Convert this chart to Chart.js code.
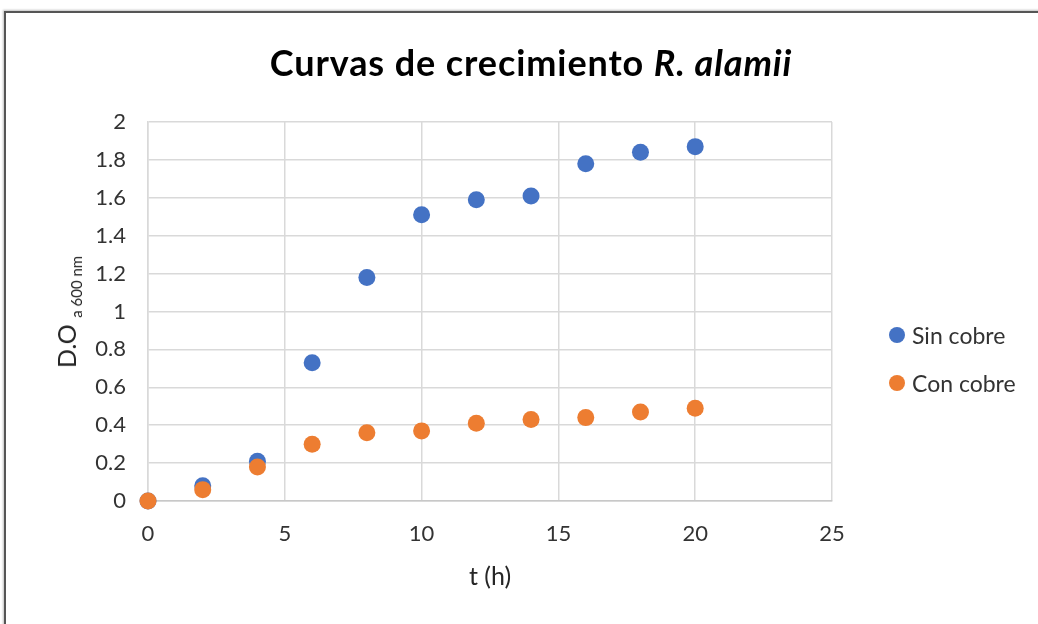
<!DOCTYPE html>
<html>
<head>
<meta charset="utf-8">
<script src="https://cdn.jsdelivr.net/npm/chart.js@4"></script>
<style>
  html, body { margin: 0; padding: 0; background: #fff; }
  #wrap { position: relative; width: 1038px; height: 624px; overflow: hidden; font-family: Lato, "Open Sans", sans-serif; }
  #frame { position: absolute; left: 4px; top: 11px; width: 1100px; height: 700px; border-left: 2px solid #555; border-top: 2px solid #555; box-shadow: -1px -1px 2px rgba(0,0,0,0.25); }
  #title { position: absolute; left: 0; width: 1062px; top: 40px; text-align: center; font-size: 36px; letter-spacing: 0.9px; font-weight: bold; color: #000; }
  #ytitle { position: absolute; left: 68px; top: 312px; transform: translate(-50%, -50%) rotate(-90deg); white-space: nowrap; font-size: 25px; color: #262626; }
  #ytitle sub { font-size: 15px; vertical-align: -6px; }
  #legend { position: absolute; left: 889px; top: 321px; font-size: 23px; color: #333; }
  .item { height: 48px; display: flex; align-items: flex-start; }
  .dot { width: 16px; height: 16px; border-radius: 50%; margin-top: 6px; margin-right: 7px; }
  canvas { position: absolute; left: 0; top: 0; }
</style>
</head>
<body>
<div id="wrap">
  <div id="frame"></div>
  <canvas id="scatterChart" width="1038" height="624"></canvas>
  <div id="title">Curvas de crecimiento <i>R. alamii</i></div>
  <div id="ytitle">D.O <sub>a 600 nm</sub></div>
  <div id="legend"></div>
</div>
<script>
const hours = [0, 2, 4, 6, 8, 10, 12, 14, 16, 18, 20];
const sinCobre = [0, 0.08, 0.21, 0.73, 1.18, 1.51, 1.59, 1.61, 1.78, 1.84, 1.87];
const conCobre = [0, 0.06, 0.18, 0.30, 0.36, 0.37, 0.41, 0.43, 0.44, 0.47, 0.49];
const seriesNames = ["Sin cobre", "Con cobre"];
const seriesColors = ["#4472C4", "#ED7D31"];
const xTicks = [0, 5, 10, 15, 20, 25];
const yTicks = [0, 0.2, 0.4, 0.6, 0.8, 1, 1.2, 1.4, 1.6, 1.8, 2];

function toPoints(values) {
  return hours.map((h, i) => ({ x: h, y: values[i] }));
}

const gridColor = "#d9d9d9";
const tickFont = { family: "Lato", size: 22 };

const ctx = document.getElementById("scatterChart").getContext("2d");
const scatterChart = new Chart(ctx, {
  type: "scatter",
  data: {
    datasets: [
      {
        label: seriesNames[0],
        data: toPoints(sinCobre),
        backgroundColor: seriesColors[0],
        borderWidth: 0,
        pointRadius: 8.5,
        pointHoverRadius: 8.5,
        order: 1,
        clip: false,
      },
      {
        label: seriesNames[1],
        data: toPoints(conCobre),
        backgroundColor: seriesColors[1],
        borderWidth: 0,
        pointRadius: 8.5,
        pointHoverRadius: 8.5,
        order: 0,
        clip: false,
      },
    ],
  },
  options: {
    responsive: false,
    animation: false,
    layout: {
      padding: { top: 122, right: 206, bottom: 0, left: 0 },
    },
    plugins: {
      legend: { display: false },
      tooltip: { enabled: false },
    },
    scales: {
      x: {
        type: "linear",
        min: 0,
        max: 25,
        afterBuildTicks: (scale) => {
          scale.ticks = xTicks.map((v) => ({ value: v }));
        },
        afterFit: (scale) => {
          scale.height = 123;
        },
        ticks: { font: tickFont, color: "#333", padding: 20 },
        grid: { color: gridColor, lineWidth: 1.5, drawTicks: false },
        border: { color: "#c8c8c8", width: 1.5 },
        title: {
          display: true,
          text: "t (h)",
          font: { family: "Lato", size: 25 },
          color: "#262626",
          padding: { top: 4, bottom: 32 },
        },
      },
      y: {
        type: "linear",
        min: 0,
        max: 2,
        afterBuildTicks: (scale) => {
          scale.ticks = yTicks.map((v) => ({ value: v }));
        },
        afterFit: (scale) => {
          scale.width = 148;
        },
        ticks: {
          font: tickFont,
          color: "#333",
          padding: 22,
          callback: (value) => String(+value.toFixed(1)),
        },
        grid: { color: gridColor, lineWidth: 1.5, drawTicks: false },
        border: { color: gridColor, width: 1.5 },
      },
    },
  },
});

// legend built from the datasets
const legendBox = document.getElementById("legend");
scatterChart.data.datasets.forEach((ds) => {
  const item = document.createElement("div");
  item.className = "item";
  const dot = document.createElement("span");
  dot.className = "dot";
  dot.style.background = ds.backgroundColor;
  const text = document.createElement("span");
  text.textContent = ds.label;
  item.appendChild(dot);
  item.appendChild(text);
  legendBox.appendChild(item);
});
</script>
</body>
</html>
